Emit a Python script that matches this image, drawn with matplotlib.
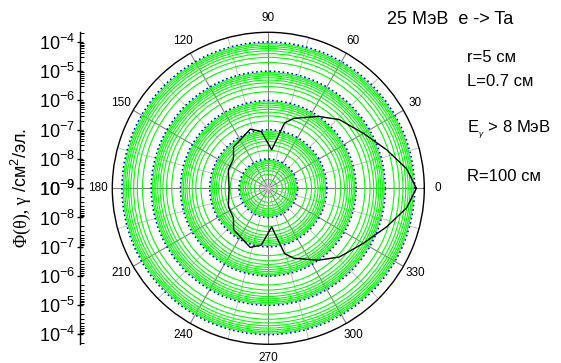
import numpy as np
import matplotlib
matplotlib.use("Agg")
import matplotlib.pyplot as plt
from matplotlib.ticker import FixedLocator, FixedFormatter

plt.rcParams['font.family'] = ['Liberation Sans', 'DejaVu Sans']
plt.rcParams['mathtext.fontset'] = 'custom'
plt.rcParams['mathtext.rm'] = 'Liberation Sans'
plt.rcParams['mathtext.it'] = 'Liberation Sans:italic'

# --- data: angular distribution of bremsstrahlung flux ---
theta_deg = [0, 8, 18, 30, 44, 55, 70, 76, 85, 97, 107, 120, 130, 140, 155, 180,
             205, 220, 230, 240, 253, 263, 275, 284, 290, 305, 316, 330, 342, 352, 360]
flux = [1.15e-4, 6.0e-5, 1.8e-5, 5.7e-6, 2.4e-6, 1.0e-6, 3.5e-7, 2.0e-7, 2.1e-8,
        9.0e-8, 1.3e-7, 8.2e-8, 7.0e-8, 3.6e-8, 3.2e-8, 2.2e-8,
        3.2e-8, 3.6e-8, 7.0e-8, 8.2e-8, 1.3e-7, 9.0e-8, 2.1e-8, 2.0e-7, 3.5e-7,
        1.0e-6, 2.4e-6, 5.7e-6, 1.8e-5, 6.0e-5, 1.15e-4]

angle_ticks = list(range(0, 360, 30))
angle_minor = list(range(15, 360, 30))
decades = [1e-8, 1e-7, 1e-6, 1e-5, 1e-4]
axis_labels = ['10$^{\\mathrm{-4}}$', '10$^{\\mathrm{-5}}$', '10$^{\\mathrm{-6}}$',
               '10$^{\\mathrm{-7}}$', '10$^{\\mathrm{-8}}$', '10$^{\\mathrm{-9}}$']
axis_values = [1e-4, 1e-5, 1e-6, 1e-7, 1e-8, 1e-9]
R_MIN, R_MAX = 1e-9, 2.15e-4

W, H = 561, 363
def fx(px):
    return px / W
def fy(py):
    return 1 - py / H

fig = plt.figure(figsize=(W / 100, H / 100), dpi=100)

# --- polar plot ---
cx, cy, rad = 268.3, 188.3, 156
ax = fig.add_axes([fx(cx - rad), fy(cy + rad), 2 * rad / W, 2 * rad / H], projection='polar')
ax.set_rscale('log')
ax.set_rlim(R_MIN, R_MAX)

minor_r = [m * 10.0 ** e for e in range(-9, -4) for m in range(2, 10)]
ax.yaxis.set_major_locator(FixedLocator(decades))
ax.yaxis.set_minor_locator(FixedLocator(minor_r))
ax.yaxis.set_major_formatter(FixedFormatter([''] * len(decades)))
ax.yaxis.set_minor_formatter(FixedFormatter([''] * len(minor_r)))
ax.tick_params(axis='y', which='both', length=0)

ax.set_xticks(np.deg2rad(angle_ticks))
ax.set_xticklabels([str(a) for a in angle_ticks])
ax.xaxis.set_minor_locator(FixedLocator(np.deg2rad(angle_minor)))
ax.tick_params(axis='x', which='major', direction='in', length=6, width=1, labelsize=8.5, pad=3)
ax.tick_params(axis='x', which='minor', direction='in', length=3, width=0.8)

ax.yaxis.grid(True, which='minor', color='#00ff00', lw=0.8, ls='-')
ax.yaxis.grid(True, which='major', color='blue', lw=1.2, ls=':')
ax.xaxis.grid(True, which='major', color='#808080', lw=0.8)
ax.xaxis.grid(True, which='minor', color='#c0c0c0', lw=0.7)
ax.spines['polar'].set_color('black')
ax.spines['polar'].set_linewidth(1)

ax.plot(np.deg2rad(theta_deg), flux, color='black', lw=1, zorder=5)

# --- left mirrored log axis ---
top = 32
bottom = 344
ax_up = fig.add_axes([fx(80), fy(cy), 0.001, (cy - top) / H])
ax_dn = fig.add_axes([fx(80), fy(bottom), 0.001, (bottom - cy) / H])
for a, lims in ((ax_up, (R_MIN, R_MAX)), (ax_dn, (R_MAX, R_MIN))):
    a.set_yscale('log')
    a.set_ylim(*lims)
    a.patch.set_visible(False)
    for s in ('top', 'right', 'bottom'):
        a.spines[s].set_visible(False)
    a.spines['left'].set_linewidth(1)
    a.set_xticks([])
    a.yaxis.set_major_locator(FixedLocator(axis_values))
    a.yaxis.set_major_formatter(FixedFormatter(axis_labels))
    a.yaxis.set_minor_locator(FixedLocator(minor_r + [2e-4]))
    a.yaxis.set_minor_formatter(FixedFormatter([''] * (len(minor_r) + 1)))
    a.tick_params(axis='y', which='major', direction='inout', length=5, width=1, labelsize=13, pad=1)
    a.tick_params(axis='y', which='minor', direction='in', length=3, width=0.7)

# --- axis title (serif part + sans part) ---
base_x, base_y = fx(27), fy(247)
t1 = fig.text(base_x, base_y, 'Φ(θ), γ ', rotation=90, rotation_mode='anchor',
              ha='left', va='baseline', fontsize=13, family='Liberation Serif')
fig.canvas.draw()
bb = t1.get_window_extent()
fig.text(base_x, bb.y1 / fig.bbox.height, '/см$^{\\mathrm{2}}$/эл.', rotation=90,
         rotation_mode='anchor', ha='left', va='baseline', fontsize=13)

# --- annotations ---
fig.text(fx(387), fy(19), '25 МэВ  e -> Ta', fontsize=13, va='center')
fig.text(fx(467), fy(58), 'r=5 см', fontsize=12, va='center')
fig.text(fx(467), fy(81), 'L=0.7 см', fontsize=12, va='center')
fig.text(fx(467), fy(130), 'E$_{_{\\gamma}}$ > 8 МэВ', fontsize=12, va='center')
fig.text(fx(467), fy(177), 'R=100 см', fontsize=12, va='center')

fig.savefig('out.png', dpi=100)
